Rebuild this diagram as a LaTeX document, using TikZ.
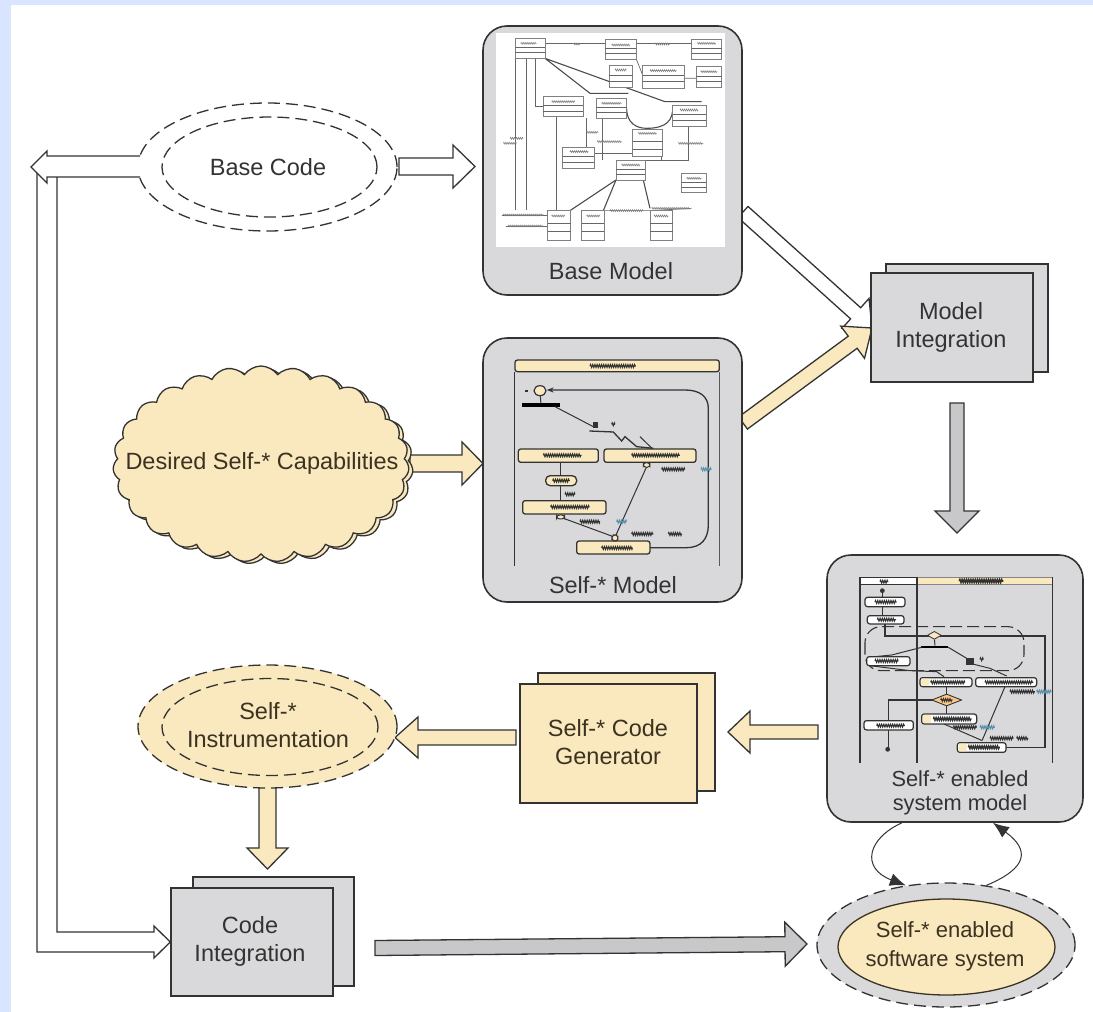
\documentclass[tikz,border=0pt]{standalone}
\usepackage{fontspec}
\setmainfont{Liberation Sans}
\usetikzlibrary{calc,shapes.geometric,shapes.symbols,arrows.meta,decorations.pathmorphing}
\definecolor{paleblue}{HTML}{D9E4FF}
\definecolor{cream}{HTML}{FAE8BE}
\definecolor{panel}{HTML}{D9D9DB}
\definecolor{arrowgrey}{HTML}{C8C8CA}
\definecolor{ink}{HTML}{333333}
\definecolor{tone}{HTML}{3B3322}
\definecolor{teal}{HTML}{5C93A8}
\tikzset{
  lbl/.style={font=\fontsize{23.5}{28}\selectfont,text=ink,align=center,inner sep=0pt},
  lblsm/.style={font=\fontsize{21.8}{23.5}\selectfont,text=ink,align=center,inner sep=0pt},
  modelbox/.style={draw=ink,line width=1.6pt,fill=panel,rounded corners=24pt,inner sep=0pt},
  stackbox/.style={draw=ink,line width=1.4pt,inner sep=0pt},
  dashell/.style={ellipse,draw=ink,line width=1.3pt,dash pattern=on 12pt off 6pt,inner sep=0pt},
  blockline/.style={draw=ink,line width=1.3pt,line join=miter},
  uml/.style={draw=gray,line width=0.6pt,fill=white},
  umlline/.style={draw=gray!80!black,line width=0.7pt},
  umlbold/.style={draw=gray!60!black,line width=1.1pt},
  action/.style={draw=ink,line width=1.3pt,fill=cream,rounded corners=2.5pt},
  actionw/.style={draw=ink,line width=1.2pt,fill=white,rounded corners=2.5pt},
  lane/.style={draw=#1,line width=1.6pt},
  lane/.default=ink,
  flow/.style={draw=ink,line width=1pt},
  squig/.style={draw=#1,line width=1.1pt,decorate,decoration={zigzag,segment length=2.2pt,amplitude=1.4pt}},
  squig/.default=ink,
}
\newcommand{\blockarrow}[6]{%
  \coordinate (ba-base) at ($(#3)!#6!(#2)$);
  \draw[blockline,fill=#1] ($(#2)!#4!90:(#3)$) -- ($(ba-base)!#4!90:(#3)$) -- ($(ba-base)!#5!90:(#3)$) -- (#3)
    -- ($(ba-base)!#5!-90:(#3)$) -- ($(ba-base)!#4!-90:(#3)$) -- ($(#2)!#4!-90:(#3)$) -- cycle;}
\newcommand{\umlcls}[4]{%
  \draw[uml] (#1,#2) rectangle (#3,#4);
  \draw[umlline] (#1,{#2+(#4-#2)*0.45}) -- (#3,{#2+(#4-#2)*0.45});
  \draw[umlline] (#1,{#2+(#4-#2)*0.72}) -- (#3,{#2+(#4-#2)*0.72});}
\newcommand{\sq}[4][ink]{\draw[squig=#1] (#2,#4) -- (#3,#4);}
\begin{document}
\begin{tikzpicture}[x=1pt,y=-1pt]
\useasboundingbox (0,0) rectangle (1093,1012);
\fill[white] (0,0) rectangle (1093,1012);
\fill[paleblue] (0,0) rectangle (1093,5);
\fill[paleblue] (0,0) rectangle (11,1012);

% end points of the block arrows
\coordinate (a1s) at (743,212);  \coordinate (a1t) at (872,328);
\coordinate (a2s) at (743,423);  \coordinate (a2t) at (872,328);
\coordinate (a3s) at (957,403);  \coordinate (a3t) at (957,533);
\coordinate (a4s) at (410,463.5);\coordinate (a4t) at (483,463.5);
\coordinate (a5s) at (818,732);  \coordinate (a5t) at (728,732);
\coordinate (a6s) at (516,737.5);\coordinate (a6t) at (395,737.5);
\coordinate (a7s) at (267.5,786);\coordinate (a7t) at (267.5,869);
\coordinate (a8s) at (375,948);  \coordinate (a8t) at (807,944);
\coordinate (a9s) at (399,166.5);\coordinate (a9t) at (475,166.5);

% block arrows behind the shapes
\blockarrow{white}{a1s}{a1t}{7.5pt}{20pt}{22pt}
\blockarrow{cream}{a2s}{a2t}{7.5pt}{20pt}{24pt}
\blockarrow{arrowgrey}{a3s}{a3t}{7pt}{22pt}{22pt}
\blockarrow{white}{a9s}{a9t}{8.5pt}{21.5pt}{22pt}
\blockarrow{cream}{a4s}{a4t}{8.5pt}{21.5pt}{21pt}
\blockarrow{cream}{a5s}{a5t}{7pt}{21pt}{22pt}
\blockarrow{cream}{a6s}{a6t}{7.5pt}{20.5pt}{23pt}
\blockarrow{cream}{a7s}{a7t}{8.5pt}{20.5pt}{21pt}
\blockarrow{arrowgrey}{a8s}{a8t}{7.5pt}{22pt}{22pt}

% model panels
\node[modelbox,minimum width=259pt,minimum height=269pt] (bm) at (612.5,160.5) {};
\node[modelbox,minimum width=259pt,minimum height=264pt] (sm) at (612.5,470) {};
\node[modelbox,minimum width=256pt,minimum height=267pt] (em) at (955,688.5) {};

% Base Model picture
\begin{scope}[shift={(480pt,0pt)},x=0.3333pt,y=-0.3333pt]
\fill[white] (48,100) rectangle (735,742);
\draw[umlline] (105,175) -- (105,630) (140,175) -- (140,630);
\draw[umlline] (165,175) -- (165,318) -- (190,318);
\draw[umlline] (195,130) -- (375,130) (468,130) -- (635,130);
\draw[umlline] (228,350) -- (228,632);
\draw[umlline] (318,355) -- (318,442) (368,355) -- (368,480);
\draw[umlline] (342,460) -- (458,460);
\draw[umlline] (458,150) -- (488,225) (612,235) -- (648,235);
\draw[umlline] (545,470) -- (545,480) -- (495,480);
\draw[umlline] (625,380) -- (625,480) -- (545,480);
\draw[umlline] (65,645) -- (203,645) (78,678) -- (203,678);
\draw[umlline] (372,632) -- (510,632) -- (635,625);
\draw[umlbold] (195,175) -- (330,280) -- (445,280) (195,175) -- (555,305) -- (665,305);
\draw[umlbold] (440,325) .. controls (440,370) and (470,385) .. (500,385) .. controls (560,385) and (580,360) .. (578,320);
\draw[umlbold] (408,540) -- (270,632);
\draw[umlbold] (408,540) -- (370,632);
\draw[umlbold] (490,540) -- (510,625);
\umlcls{105}{115}{195}{175}\umlcls{375}{118}{468}{178}\umlcls{635}{118}{725}{178}
\umlcls{388}{195}{458}{262}\umlcls{488}{195}{612}{265}\umlcls{648}{200}{725}{262}
\umlcls{190}{290}{310}{350}\umlcls{348}{295}{440}{355}\umlcls{578}{315}{678}{380}
\umlcls{458}{388}{548}{470}\umlcls{248}{442}{342}{505}\umlcls{408}{482}{495}{540}
\umlcls{605}{520}{678}{578}\umlcls{203}{632}{272}{720}\umlcls{305}{632}{372}{720}
\umlcls{510}{630}{578}{720}
\foreach \xa/\xb/\yy in {122/170/130,395/450/135,652/708/130,405/440/210,510/590/212,662/712/215,215/285/305,365/425/310,600/655/330,475/530/400,270/325/455,425/480/495,620/665/535,215/255/648,320/360/648,522/565/648,280/300/132,525/570/132,320/355/397,352/425/425,595/670/430,90/130/415,70/110/430,70/190/645,85/190/678,390/490/632,515/630/625}
  \draw[gray,line width=0.6pt,decorate,decoration={zigzag,segment length=2pt,amplitude=0.9pt}] (\xa,\yy) -- (\xb,\yy);
\end{scope}

% Self-* Model picture
\begin{scope}[shift={(480pt,-335pt)},x=0.3333pt,y=-0.3333pt]
\draw[lane] (103,110) -- (103,692);
\draw[lane=gray!70!black] (718,110) -- (718,692);
\draw[action] (105,75) rectangle (718,110);
\sq{330}{468}{93}
\node[ellipse,draw=ink,line width=1.2pt,fill=cream,minimum width=12pt,minimum height=10pt,inner sep=0pt] (s0) at (180,167) {};
\fill[ink] (134,164) rectangle (144,170);
\node[fill=black,minimum width=38pt,minimum height=3.2pt,inner sep=0pt] (sbar) at (183,210) {};
\draw[flow] (s0) -- (sbar);
\draw[flow] (225,215) -- (340,275);
\fill[ink] (338,262) rectangle (354,280);
\draw[flow,line width=1.3pt] (328,288) -- (400,291) -- (425,318) -- (435,305) -- (470,335) -- (520,340);
\draw[flow] (480,305) -- (518,342);
\draw[flow] (470,348) -- (520,340);
\sq{395}{405}{268}
\draw[flow,-{Stealth[length=7pt,width=5pt]},line width=1.3pt] (510,638) -- (620,638) .. controls (665,638) and (685,610) .. (685,570) -- (685,220) .. controls (685,185) and (660,165) .. (615,165) -- (200,165);
\draw[action] (115,342) rectangle (355,382); \sq{190}{305}{361}
\draw[action] (372,342) rectangle (648,382); \sq{455}{600}{361}
\draw[flow] (242,382) -- (242,422) (242,452) -- (242,497);
\draw[action,rounded corners=4.5pt] (197,422) rectangle (290,452); \sq{218}{270}{437}
\draw[action] (128,497) rectangle (378,537); \sq{212}{328}{516}
\draw[action] (290,618) rectangle (510,657); \sq{365}{458}{639}
\draw[flow] (500,395) -- (408,600) (245,548) -- (400,605);
\draw[action,rounded corners=3pt,line width=1pt] (230,540) rectangle (254,552);
\draw[action,rounded corners=3pt,line width=1pt] (490,383) rectangle (510,397);
\draw[action,rounded corners=3pt,line width=1pt] (396,600) rectangle (414,618);
\sq{545}{615}{403}\sq[teal]{663}{695}{403}\sq{300}{360}{560}\sq[teal]{410}{440}{560}
\sq{455}{520}{597}\sq{565}{605}{597}\sq{255}{285}{478}
\end{scope}

% Self-* enabled system model picture
\begin{scope}[shift={(820pt,-550pt)},x=0.3333pt,y=-0.3333pt]
\draw[ink,line width=1pt,fill=white] (120,82) rectangle (290,102);
\draw[ink!60,line width=1pt,fill=cream] (290,82) rectangle (698,102);
\draw[lane,line width=1.2pt] (120,82) -- (120,640);
\draw[lane,line width=2pt] (290,82) -- (290,640);
\draw[lane,line width=1.2pt] (698,82) -- (698,640);
\sq{180}{205}{95}\draw[squig,line width=1.6pt] (418,93) -- (550,93);
\draw[ink,line width=1.1pt,dash pattern=on 12pt off 5pt,rounded corners=16pt] (135,230) rectangle (612,362);
\fill[ink] (187,122) circle (2.4pt);
\draw[flow] (187,122) -- (187,142) (187,170) -- (187,197);
\draw[flow,line width=1.2pt] (195,222) -- (195,258) -- (675,258) -- (675,593) -- (558,593);
\draw[actionw] (135,142) rectangle (255,170); \sq{165}{230}{156}
\draw[actionw] (142,197) rectangle (252,222); \sq{172}{228}{209}
\node[diamond,draw=ink,fill=cream,line width=0.8pt,minimum width=14pt,minimum height=8pt,inner sep=0pt] (ed1) at (343,256) {};
\node[fill=black,minimum width=27pt,minimum height=2.4pt,inner sep=0pt] (ebar) at (345,291) {};
\draw[flow] (ed1) -- (ebar);
\draw[flow] (305,292) -- (215,315) -- (145,322);
\draw[flow] (385,292) -- (440,325) -- (450,340) -- (510,355) -- (560,378);
\fill[ink] (438,325) rectangle (462,345);
\sq{480}{490}{328}
\draw[actionw] (140,320) rectangle (270,347); \sq{165}{235}{333}
\draw[flow] (150,347) -- (270,362) -- (350,365) -- (372,380);
\draw[flow] (372,522) -- (487,572);
\draw[flow] (555,410) -- (487,570);
\draw[flow] (380,410) -- (380,432) (380,468) -- (380,492);
\draw[flow,line width=1.2pt] (345,450) -- (205,450) -- (205,598);
\fill[ink] (203,598) circle (2.4pt);
\draw[actionw] (132,512) rectangle (280,540); \sq{170}{255}{527}
\draw[actionw] (300,383) rectangle (456,410); \sq{332}{435}{397}
\draw[actionw] (467,383) rectangle (650,410); \sq{495}{640}{397}
\node[diamond,draw=ink,fill=cream!70!orange,line width=0.9pt,minimum width=30pt,minimum height=12pt,inner sep=0pt] (ed2) at (380,450) {};
\draw[squig,line width=1pt] (362,450) -- (398,450);
\draw[actionw] (305,492) rectangle (470,522); \draw[squig,line width=1.4pt] (340,507) -- (455,507);
\draw[actionw] (412,578) rectangle (558,607); \draw[squig,line width=1.4pt] (445,592) -- (540,592);
\fill[cream] (304,386) rectangle (328,407) (309,495) rectangle (333,519) (416,581) rectangle (440,604);
\sq{570}{645}{425}\sq[teal]{650}{695}{425}\sq{400}{470}{532}\sq[teal]{480}{525}{532}
\sq{510}{580}{565}\sq{590}{625}{565}
\end{scope}

% panel captions
\node[lbl] (bmt) at (611,271) {Base Model};
\node[lbl] (smt) at (613,585) {Self-* Model};
\node[lblsm] (emt) at (960,793) {Self-* enabled\\system model};

% Base Code
\node[dashell,minimum width=259pt,minimum height=128pt,fill=white] (bc) at (267.5,167) {};
\node[dashell,minimum width=215pt,minimum height=100pt] (bci) at (269.5,167) {};
\node[lbl] (bct) at (268,167) {Base Code};

% Desired capabilities
\node[cloud,cloud puffs=27,cloud puff arc=110,aspect=1.5,draw=ink,line width=1.3pt,fill=cream,minimum width=296pt,minimum height=196pt,inner sep=0pt] (cl2) at (265,466) {};
\node[cloud,cloud puffs=27,cloud puff arc=110,aspect=1.5,draw=ink,line width=1.3pt,fill=cream,minimum width=296pt,minimum height=196pt,inner sep=0pt] (cl) at (261,464) {};
\node[lbl,text=tone] (clt) at (262,463) {Desired Self-* Capabilities};

% stacks
\node[stackbox,fill=panel,minimum width=162pt,minimum height=108pt] (mi2) at (967,318) {};
\node[stackbox,fill=panel,minimum width=162pt,minimum height=109pt] (mi) at (952,327.5) {};
\node[lbl] (mit) at (951,327) {Model\\Integration};

\node[stackbox,fill=cream,minimum width=177pt,minimum height=118pt] (cg2) at (626.5,732) {};
\node[stackbox,fill=cream,minimum width=177pt,minimum height=119pt] (cg) at (608.5,743.5) {};
\node[lbl,text=tone] (cgt) at (608,742) {Self-* Code\\Generator};

\node[stackbox,fill=panel,minimum width=161pt,minimum height=109pt] (ci2) at (273.5,931.5) {};
\node[stackbox,fill=panel,minimum width=162pt,minimum height=108pt] (ci) at (252,942) {};
\node[lbl] (cit) at (250,941) {Code\\Integration};

% Self-* Instrumentation
\node[dashell,minimum width=259pt,minimum height=123pt,fill=cream] (si) at (267.5,726.5) {};
\node[dashell,minimum width=216pt,minimum height=97pt] (sii) at (270,727) {};
\node[lbl,text=tone] (sit) at (268,725) {Self-*\\Instrumentation};

% Self-* enabled software system
\node[dashell,minimum width=258pt,minimum height=124pt,fill=panel] (ss) at (946,945) {};
\node[ellipse,draw=tone,line width=1.3pt,fill=cream,minimum width=217pt,minimum height=96pt,inner sep=0pt] (ssi) at (946.5,947) {};
\node[lblsm,text=tone,font=\fontsize{22}{29}\selectfont] (sst) at (945,946.5) {Self-* enabled\\software system};

% feedback loops
\draw[ink,line width=1pt,-{Latex[length=16pt,width=13pt]}] ($(em.south)+(-53,0)$) .. controls (868,838) and (860,868) .. (ss.124);
\draw[ink,line width=1pt,-{Latex[length=16pt,width=13pt]}] (ss.56) .. controls (1028,868) and (1030,850) .. ($(em.south)+(38,0)$);

% the hollow double-line return arrows
\coordinate (ba-tip) at (31,167);
\draw[blockline,fill=white] (140,156) -- (47,156) -- (47,151) -- (ba-tip) -- (47,183) -- (47,177) -- (140,177);
\draw[blockline] (57,177) -- (57,932) -- (154,932) -- (154,926) -- (ci.west) -- (154,958) -- (154,952) -- (37,952) -- (37,173);
\end{tikzpicture}
\end{document}
